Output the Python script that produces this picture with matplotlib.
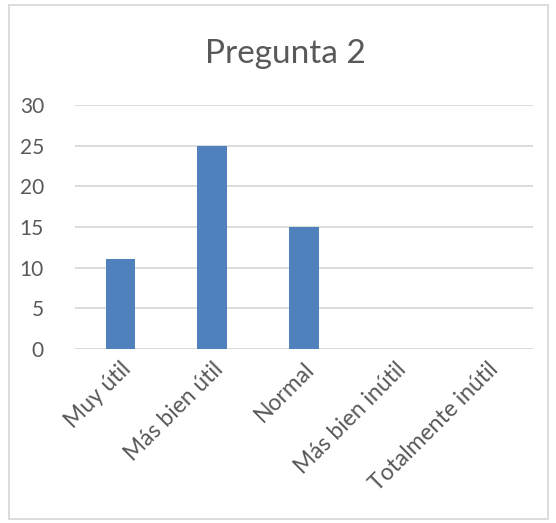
import matplotlib.pyplot as plt
from matplotlib.patches import Rectangle

# Survey answers for question 2
categories = ["Muy útil", "Más bien útil", "Normal", "Más bien inútil", "Totalmente inútil"]
counts = [11, 25, 15, 0, 0]
yticks = [0, 5, 10, 15, 20, 25, 30]

plt.rcParams['font.family'] = ['Lato', 'DejaVu Sans']
text_color = "#595959"

fig = plt.figure(figsize=(5.56, 5.23), dpi=100)
ax = fig.add_axes([0.134, 0.333, 0.825, 0.466])

x = range(len(categories))
ax.bar(x, counts, width=0.32, color="#4f81bd", zorder=3)

ax.set_xlim(-0.5, len(categories) - 0.5)
ax.set_ylim(0, 30)
ax.set_yticks(yticks)
ax.set_xticks(list(x))
ax.set_xticklabels(categories, rotation=45, ha="right", rotation_mode="anchor",
                   fontsize=16.5, color=text_color)
ax.tick_params(axis="x", length=0, pad=7)
ax.tick_params(axis="y", length=0, pad=22, labelsize=15, labelcolor=text_color)

ax.yaxis.grid(True, color="#d9d9d9", linewidth=1.3, zorder=0)
for s in ax.spines.values():
    s.set_visible(False)

fig.text(0.513, 0.897, "Pregunta 2", ha="center", va="center",
         fontsize=24, color=text_color)

# light grey frame around the whole chart
fig.patches.append(Rectangle((0.016, 0.008), 0.97, 0.982, transform=fig.transFigure,
                             fill=False, edgecolor="#d9d9d9", linewidth=1.3))

fig.savefig("out.png", dpi=100, facecolor="white")
